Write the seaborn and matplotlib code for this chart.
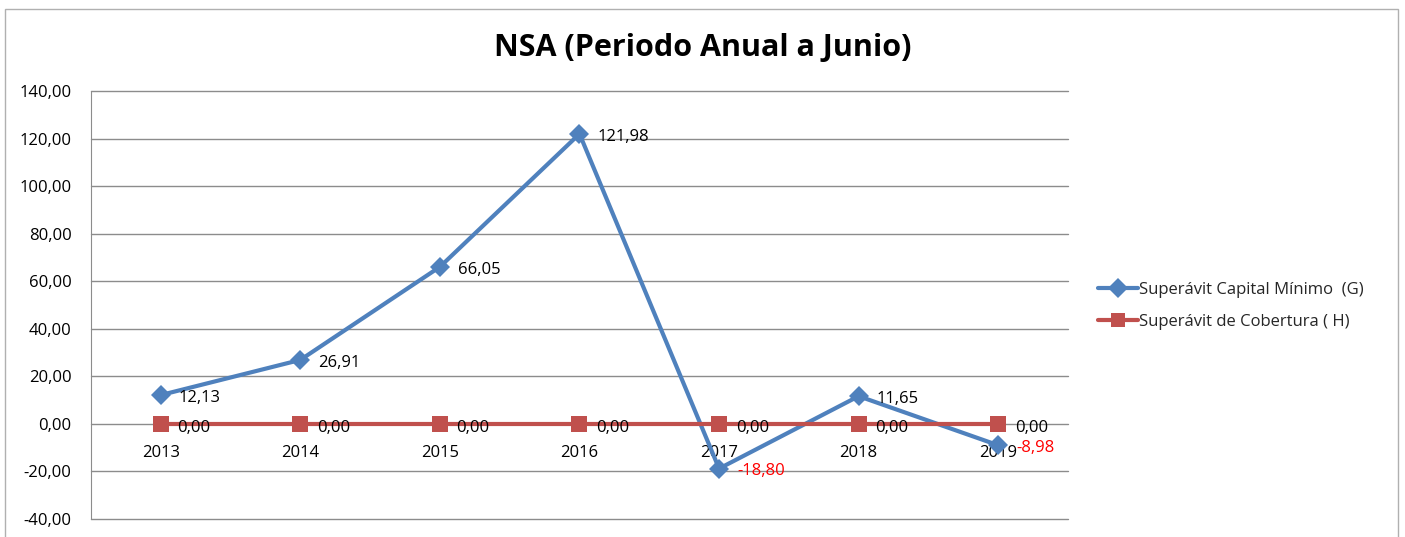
import seaborn as sns
import pandas as pd
import matplotlib.pyplot as plt
from matplotlib.patches import Rectangle

years = ['2013', '2014', '2015', '2016', '2017', '2018', '2019']
capital_minimo = [12.13, 26.91, 66.05, 121.98, -18.80, 11.65, -8.98]
cobertura = [0.0, 0.0, 0.0, 0.0, 0.0, 0.0, 0.0]

serie_g = 'Superávit Capital Mínimo  (G)'
serie_h = 'Superávit de Cobertura ( H)'

df = pd.DataFrame({'year': years, serie_g: capital_minimo, serie_h: cobertura})
long_df = df.melt(id_vars='year', var_name='serie', value_name='valor')

sns.set_style('white')
plt.rcParams['font.family'] = ['Open Sans', 'DejaVu Sans']

blue = '#4F81BD'
red = '#C0504D'
fs = 12

fig = plt.figure(figsize=(14.05, 5.37), dpi=100)
ax = fig.add_axes([91 / 1405, 1 - 519 / 537, (1068 - 91) / 1405, (519 - 91) / 537])

sns.lineplot(data=long_df, x='year', y='valor', hue='serie', style='serie',
             palette=[blue, red], markers=['D', 's'], dashes=False,
             markersize=10, linewidth=3, markeredgewidth=0, ax=ax, zorder=3)
# la serie roja se dibuja encima, con cuadrado algo mayor
ax.lines[1].set_markersize(11)
ax.lines[1].set_zorder(3.5)

ax.set_xlim(-0.5, 6.5)
ax.set_ylim(-40, 140)
ax.set_yticks(range(-40, 141, 20))
ax.set_yticklabels([f'{v:.2f}'.replace('.', ',') for v in range(-40, 141, 20)])
ax.yaxis.grid(True, color='#8c8c8c', linewidth=1)
for gl in ax.yaxis.get_gridlines():
    gl.set_clip_on(False)
ax.set_axisbelow(True)
ax.set_xlabel('')
ax.set_ylabel('')

for side in ['top', 'right']:
    ax.spines[side].set_visible(False)
ax.spines['left'].set_color('#8c8c8c')
ax.spines['bottom'].set_position(('data', 0))
ax.spines['bottom'].set_visible(False)
ax.tick_params(axis='both', length=0, labelsize=fs, colors='black')
ax.tick_params(axis='x', pad=15)
ax.tick_params(axis='y', pad=14)

# etiquetas de datos
for i, v in enumerate(capital_minimo):
    color = 'red' if v < 0 else 'black'
    ax.annotate(f'{v:.2f}'.replace('.', ','), (i, v), xytext=(13, -2),
                textcoords='offset points', ha='left', va='center',
                fontsize=fs, color=color, zorder=4)
for i, v in enumerate(cobertura):
    ax.annotate(f'{v:.2f}'.replace('.', ','), (i, v), xytext=(12, -3),
                textcoords='offset points', ha='left', va='center',
                fontsize=fs, color='black', zorder=4)

handles, labels = ax.get_legend_handles_labels()
ax.get_legend().remove()
fig.legend(handles, labels, loc='center left',
           bbox_to_anchor=(1083 / 1405, 1 - 306 / 537), frameon=False,
           fontsize=fs, handlelength=2.4, handletextpad=0.05, labelspacing=1.0)

fig.text(0.5, 1 - 48 / 537, 'NSA (Periodo Anual a Junio)', ha='center',
         va='center', fontsize=22, fontweight='bold', color='black')

fig.patches.append(Rectangle((5 / 1405, -0.05), 1393 / 1405, 1.05 - 9 / 537,
                             transform=fig.transFigure, fill=False,
                             edgecolor='#b0b0b0', linewidth=1))

fig.savefig('out.png', dpi=100)
